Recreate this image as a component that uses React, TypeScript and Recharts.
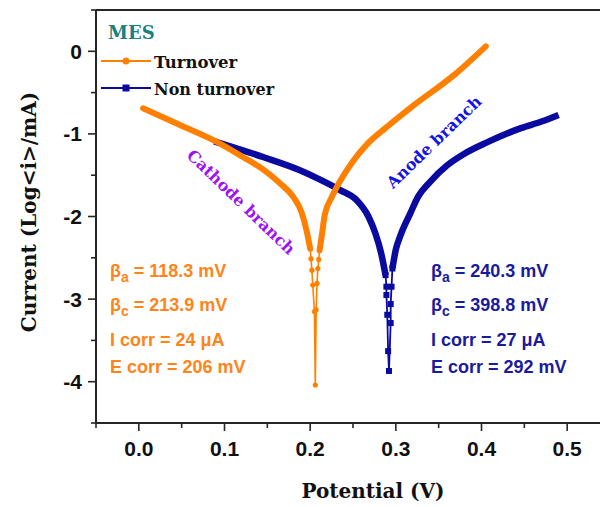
import React from 'react';
import { LineChart, Line, XAxis, YAxis, ReferenceLine, Customized } from 'recharts';

// Turnover (orange) — potential (V) and log current
const turnoverCathodeE = [0.005, 0.05, 0.09, 0.12, 0.145, 0.165, 0.18, 0.19, 0.196, 0.2];
const turnoverCathodeI = [-0.69, -0.9, -1.09, -1.27, -1.43, -1.6, -1.76, -1.95, -2.18, -2.39];
const turnoverTailE = [0.2, 0.201, 0.202, 0.203, 0.205, 0.206, 0.207, 0.208, 0.209, 0.21, 0.211];
const turnoverTailI = [-2.39, -2.51, -2.65, -2.83, -3.15, -4.04, -3.13, -2.81, -2.63, -2.52, -2.41];
const turnoverAnodeE = [0.211, 0.214, 0.217, 0.225, 0.235, 0.25, 0.266, 0.289, 0.32, 0.37, 0.405];
const turnoverAnodeI = [-2.41, -2.2, -1.98, -1.77, -1.57, -1.33, -1.13, -0.92, -0.66, -0.27, 0.06];

// Non turnover (navy)
const nonTurnoverCathodeE = [0.088, 0.145, 0.188, 0.211, 0.235, 0.254, 0.268, 0.276, 0.283, 0.288];
const nonTurnoverCathodeI = [-1.09, -1.28, -1.44, -1.55, -1.68, -1.8, -2.0, -2.2, -2.45, -2.71];
const nonTurnoverTailE = [0.288, 0.289, 0.289, 0.29, 0.291, 0.292, 0.294, 0.294, 0.295, 0.296];
const nonTurnoverTailI = [-2.71, -2.85, -2.95, -3.19, -3.63, -3.87, -3.29, -3.06, -2.85, -2.63];
const nonTurnoverAnodeE = [0.296, 0.3, 0.305, 0.317, 0.326, 0.34, 0.36, 0.38, 0.407, 0.446, 0.47, 0.49];
const nonTurnoverAnodeI = [-2.63, -2.4, -2.24, -1.96, -1.76, -1.58, -1.38, -1.24, -1.1, -0.93, -0.85, -0.77];

// Axes
const xTicks = [-0.05, 0, 0.05, 0.1, 0.15, 0.2, 0.25, 0.3, 0.35, 0.4, 0.45, 0.5, 0.55];
const yTicks = [-4.5, -4, -3.5, -3, -2.5, -2, -1.5, -1, -0.5, 0, 0.5];
const xDomain = [-0.05, 0.55];
const yDomain = [-4.5, 0.5];

// Texts
const seriesNames = ['Turnover', 'Non turnover'];
const panelTitle = 'MES';
const turnoverParams = ['118.3 mV', '213.9 mV', 'I corr = 24 μA', 'E corr = 206 mV'];
const nonTurnoverParams = ['240.3 mV', '398.8 mV', 'I corr = 27 μA', 'E corr = 292 mV'];

const zip = (e: number[], i: number[]) => e.map((v, k) => ({ e: v, i: i[k] }));

const ORANGE = '#FF8000';
const NAVY = '#0A0AA0';
const AXIS = '#262626';
const SERIF = "'DejaVu Serif', serif";
const SANS = "'Liberation Sans', Arial, sans-serif";

const XTick = (props: any) => {
  const { x, y, payload } = props;
  const v = payload.value as number;
  const major = Math.abs(v * 10 - Math.round(v * 10)) < 1e-6;
  return (
    <g>
      <line x1={x} x2={x} y1={y} y2={y + (major ? 8 : 5)} stroke={AXIS} strokeWidth={1.6} />
      {major && (
        <text x={x} y={y + 33} textAnchor="middle" fontFamily={SANS} fontWeight="bold" fontSize={21} fill="#111">
          {v.toFixed(1)}
        </text>
      )}
    </g>
  );
};

const YTick = (props: any) => {
  const { x, y, payload } = props;
  const v = payload.value as number;
  const major = Math.abs(v - Math.round(v)) < 1e-6;
  return (
    <g>
      <line x1={x - (major ? 8 : 5)} x2={x} y1={y} y2={y} stroke={AXIS} strokeWidth={1.6} />
      {major && (
        <text x={x - 14} y={y + 7.5} textAnchor="end" fontFamily={SANS} fontWeight="bold" fontSize={21} fill="#111">
          {String(v)}
        </text>
      )}
    </g>
  );
};

const SquareDot = (props: any) => {
  const { cx, cy, key } = props;
  if (cx == null || cy == null) return <g key={key} />;
  return <rect key={key} x={cx - 3} y={cy - 3} width={6} height={6} fill={NAVY} />;
};

const ParamBlock = ({ x, color, params }: { x: number; color: string; params: string[] }) => (
  <g fontFamily={SANS} fontWeight="bold" fontSize={18} fill={color}>
    <text x={x} y={277}>
      <tspan>β</tspan>
      <tspan dy={5} fontSize={14}>a</tspan>
      <tspan dy={-5}>{' = ' + params[0]}</tspan>
    </text>
    <text x={x} y={311}>
      <tspan>β</tspan>
      <tspan dy={5} fontSize={14}>c</tspan>
      <tspan dy={-5}>{' = ' + params[1]}</tspan>
    </text>
    <text x={x} y={346}>{params[2]}</text>
    <text x={x} y={373}>{params[3]}</text>
  </g>
);

const Annotations = () => (
  <g>
    <text x={108} y={39} fontFamily={SERIF} fontWeight="bold" fontSize={18} fill="#1A8080">{panelTitle}</text>
    <line x1={101} x2={151} y1={61} y2={61} stroke={ORANGE} strokeWidth={2} />
    <circle cx={126} cy={61} r={3.5} fill={ORANGE} />
    <text x={154} y={67.5} fontFamily={SERIF} fontWeight="bold" fontSize={16.5} fill="#111">{seriesNames[0]}</text>
    <line x1={101} x2={151} y1={88} y2={88} stroke={NAVY} strokeWidth={2} />
    <rect x={122.5} y={84.5} width={7} height={7} fill={NAVY} />
    <text x={154} y={94.5} fontFamily={SERIF} fontWeight="bold" fontSize={16} fill="#111">{seriesNames[1]}</text>

    <text x={0} y={0} transform="translate(241,202) rotate(44)" textAnchor="middle" dominantBaseline="central"
      fontFamily={SERIF} fontWeight="bold" fontSize={16} fill="#9B14F2">Cathode branch</text>
    <text x={0} y={0} transform="translate(434,142) rotate(-44)" textAnchor="middle" dominantBaseline="central"
      fontFamily={SERIF} fontWeight="bold" fontSize={16} fill="#1414E6">Anode branch</text>

    <ParamBlock x={110} color="#FF8419" params={turnoverParams} />
    <ParamBlock x={431} color="#1A1A9C" params={nonTurnoverParams} />

    <text x={0} y={0} transform="translate(36,212) rotate(-90)" textAnchor="middle"
      fontFamily={SERIF} fontWeight="bold" fontSize={20} fill="#111">Current (Log&lt;i&gt;/mA)</text>
    <text x={373} y={498} textAnchor="middle" fontFamily={SERIF} fontWeight="bold" fontSize={20} fill="#111">Potential (V)</text>
  </g>
);

export default function App() {
  return (
    <div style={{ position: 'fixed', left: 0, top: 0, width: 600, height: 507, overflow: 'hidden', background: '#fff' }}>
      <LineChart width={620} height={507} margin={{ top: 10, right: 10, bottom: 0, left: 0 }}>
        <XAxis
          dataKey="e"
          type="number"
          domain={xDomain}
          ticks={xTicks}
          interval={0}
          allowDataOverflow
          height={84}
          tickSize={0}
          tickMargin={0}
          tickLine={false}
          axisLine={{ stroke: AXIS, strokeWidth: 2 }}
          tick={<XTick />}
        />
        <YAxis
          type="number"
          domain={yDomain}
          ticks={yTicks}
          interval={0}
          allowDataOverflow
          width={96}
          tickSize={0}
          tickMargin={0}
          tickLine={false}
          axisLine={{ stroke: AXIS, strokeWidth: 2 }}
          tick={<YTick />}
        />
        <ReferenceLine y={0.5} stroke={AXIS} strokeWidth={2} />
        <Line data={zip(nonTurnoverCathodeE, nonTurnoverCathodeI)} dataKey="i" type="monotone" stroke={NAVY}
          strokeWidth={6.5} strokeLinejoin="round" dot={false} isAnimationActive={false} />
        <Line data={zip(nonTurnoverTailE, nonTurnoverTailI)} dataKey="i" type="linear" stroke={NAVY}
          strokeWidth={1.8} dot={<SquareDot />} isAnimationActive={false} />
        <Line data={zip(nonTurnoverAnodeE, nonTurnoverAnodeI)} dataKey="i" type="monotone" stroke={NAVY}
          strokeWidth={6.5} strokeLinejoin="round" dot={false} isAnimationActive={false} />
        <Line data={zip(turnoverCathodeE, turnoverCathodeI)} dataKey="i" type="monotone" stroke={ORANGE}
          strokeWidth={6} strokeLinejoin="round" strokeLinecap="round" dot={false} isAnimationActive={false} />
        <Line data={zip(turnoverTailE, turnoverTailI)} dataKey="i" type="linear" stroke={ORANGE}
          strokeWidth={1.6} dot={{ r: 2.6, fill: ORANGE, stroke: ORANGE, strokeWidth: 0 }} isAnimationActive={false} />
        <Line data={zip(turnoverAnodeE, turnoverAnodeI)} dataKey="i" type="monotone" stroke={ORANGE}
          strokeWidth={6} strokeLinejoin="round" strokeLinecap="round" dot={false} isAnimationActive={false} />
        <Customized component={<Annotations />} />
      </LineChart>
    </div>
  );
}
